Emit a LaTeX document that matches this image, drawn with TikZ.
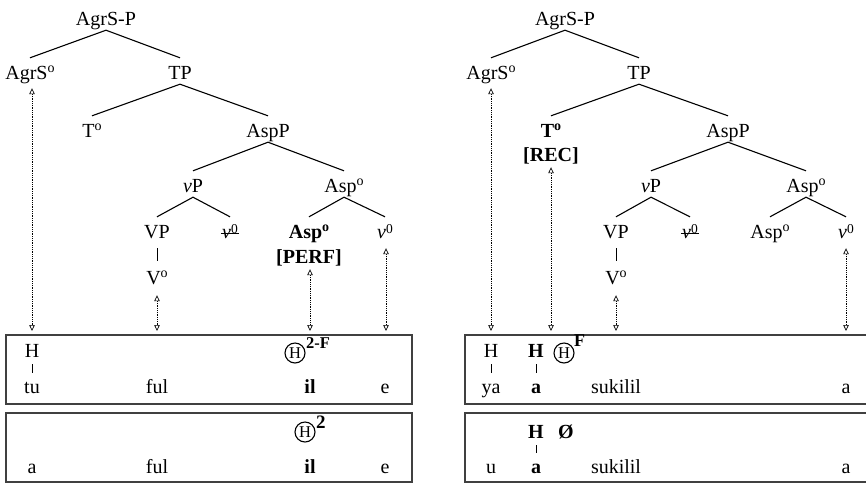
\documentclass[tikz,border=0pt]{standalone}
\usepackage{fontspec}
\setmainfont{Liberation Serif}
\usetikzlibrary{arrows.meta}
\newcommand\supo{\raisebox{6.5pt}{\fontsize{14}{14}\selectfont o}}
\newcommand\supz{\raisebox{5pt}{\fontsize{13.5}{14}\selectfont 0}}
\begin{document}
\begin{tikzpicture}[x=1pt,y=-1pt,
  tn/.style={anchor=base, inner sep=0pt, text height=13pt, text depth=5pt, font=\fontsize{20}{23}\selectfont},
  edge/.style={line width=1.1pt},
  tip/.tip={Triangle[open,length=6pt,width=5.5pt,line width=0.7pt]},
  arr/.style={line width=0.8pt, dash pattern=on 0.9pt off 0.9pt, tip-tip},
  bx/.style={draw=black!75, line width=1.5pt},
  bt/.style={anchor=base, inner sep=0pt, text height=12pt, text depth=3pt, font=\fontsize{20}{23}\selectfont},
  tick/.style={line width=0.8pt},
  circ/.style={circle, draw, line width=1.1pt, inner sep=0pt, minimum size=20pt, font=\fontsize{16.5}{18}\selectfont},
  supx/.style={anchor=base west, inner sep=0pt, font=\fontsize{16.5}{18}\selectfont\bfseries}
]
\useasboundingbox (0,0) rectangle (866,483);

% ---------------- left tree ----------------
\node[tn] (pL) at (106,25) {AgrS-P};
\node[tn] (agrsL) at (30,79) {AgrS\supo};
\node[tn] (tpL) at (180,79) {TP};
\node[tn] (t0L) at (92,137) {T\supo};
\node[tn] (asppL) at (268,137) {AspP};
\node[tn] (vpL) at (193,192) {\textit{v}P};
\node[tn] (asp0L) at (344,192) {Asp\supo};
\node[tn] (VPL) at (157,238) {VP};
\node[tn] (vsL) at (230,238) {\textit{v}\supz};
\node[tn] (aspbL) at (309,238) {\textbf{Asp\supo}};
\node[tn] (v0L) at (385,238) {\textit{v}\supz};
\node[tn] (perfL) at (309,263) {\textbf{[PERF]}};
\node[tn] (V0L) at (157,284) {V\supo};
\draw[line width=1pt] ([yshift=5pt,xshift=-1pt]vsL.base west) -- ([yshift=5pt,xshift=1pt]vsL.base east);

\draw[edge] (pL.south) -- ([yshift=8pt]agrsL.north);
\draw[edge] (pL.south) -- ([yshift=8pt]tpL.north);
\draw[edge] (tpL.south) -- ([yshift=8pt]t0L.north);
\draw[edge] (tpL.south) -- ([yshift=8pt]asppL.north);
\draw[edge] (asppL.south) -- ([yshift=8pt]vpL.north);
\draw[edge] (asppL.south) -- ([yshift=8pt]asp0L.north);
\draw[edge] (vpL.south) -- ([yshift=8pt]VPL.north);
\draw[edge] (vpL.south) -- ([yshift=8pt]vsL.north);
\draw[edge] (asp0L.south) -- ([yshift=8pt]aspbL.north);
\draw[edge] (asp0L.south) -- ([yshift=8pt]v0L.north);
\draw[line width=0.9pt] ([yshift=-5pt]VPL.south) -- ([yshift=10pt]V0L.north);

% left boxes
\draw[bx] (6,335) rectangle (412,404);
\draw[bx] (6,413) rectangle (412,482);

\coordinate (aL1) at (32,331);
\coordinate (aL2) at (157,331);
\coordinate (aL3) at (310,331);
\coordinate (aL4) at (386,331);
\draw[arr, shorten <=4pt] (agrsL.south -| aL1) -- (aL1);
\draw[arr, shorten <=6pt] (V0L.south -| aL2) -- (aL2);
\draw[arr, shorten <=1pt] (perfL.south -| aL3) -- (aL3);
\draw[arr, shorten <=5pt] (v0L.south -| aL4) -- (aL4);

% left box 1
\node[bt] (hL1) at (32,357) {H};
\node[bt] (tuL) at (32,393) {tu};
\draw[tick] ([yshift=-4pt]hL1.south) -- ([yshift=8pt]tuL.north);
\node[bt] (fulL1) at (157,393) {ful};
\node[bt] (ilL1) at (310,393) {\textbf{il}};
\node[bt] (eL1) at (385,393) {e};
\node[circ] (chL1) at (295,353) {H};
\node[supx] (supL1) at (306,348) {2-F};

% left box 2
\node[bt] (aL) at (32,473) {a};
\node[bt] (fulL2) at (157,473) {ful};
\node[bt] (ilL2) at (310,473) {\textbf{il}};
\node[bt] (eL2) at (385,473) {e};
\node[circ] (chL2) at (305,432) {H};
\node[supx, font=\fontsize{19}{20}\selectfont\bfseries] (supL2) at (316,428) {2};

% ---------------- right tree ----------------
\node[tn] (pR) at (565,25) {AgrS-P};
\node[tn] (agrsR) at (491,79) {AgrS\supo};
\node[tn] (tpR) at (639,79) {TP};
\node[tn] (t0R) at (551,137) {\textbf{T\supo}};
\node[tn] (recR) at (551,161) {\textbf{[REC]}};
\node[tn] (asppR) at (728,137) {AspP};
\node[tn] (vpR) at (651,192) {\textit{v}P};
\node[tn] (asp0R) at (806,192) {Asp\supo};
\node[tn] (VPR) at (616,238) {VP};
\node[tn] (vsR) at (690,238) {\textit{v}\supz};
\node[tn] (aspR) at (770,238) {Asp\supo};
\node[tn] (v0R) at (846,238) {\textit{v}\supz};
\node[tn] (V0R) at (616,284) {V\supo};
\draw[line width=1pt] ([yshift=5pt,xshift=-1pt]vsR.base west) -- ([yshift=5pt,xshift=1pt]vsR.base east);

\draw[edge] (pR.south) -- ([yshift=8pt]agrsR.north);
\draw[edge] (pR.south) -- ([yshift=8pt]tpR.north);
\draw[edge] (tpR.south) -- ([yshift=8pt]t0R.north);
\draw[edge] (tpR.south) -- ([yshift=8pt]asppR.north);
\draw[edge] (asppR.south) -- ([yshift=8pt]vpR.north);
\draw[edge] (asppR.south) -- ([yshift=8pt]asp0R.north);
\draw[edge] (vpR.south) -- ([yshift=8pt]VPR.north);
\draw[edge] (vpR.south) -- ([yshift=8pt]vsR.north);
\draw[edge] (asp0R.south) -- ([yshift=8pt]aspR.north);
\draw[edge] (asp0R.south) -- ([yshift=8pt]v0R.north);
\draw[line width=0.9pt] ([yshift=-5pt]VPR.south) -- ([yshift=10pt]V0R.north);

% right boxes
\draw[bx] (465,335) rectangle (874,404);
\draw[bx] (465,413) rectangle (874,482);

\coordinate (aR1) at (491,331);
\coordinate (aR2) at (551,331);
\coordinate (aR3) at (616,331);
\coordinate (aR4) at (846,331);
\draw[arr, shorten <=4pt] (agrsR.south -| aR1) -- (aR1);
\draw[arr, shorten <=1pt] (recR.south -| aR2) -- (aR2);
\draw[arr, shorten <=6pt] (V0R.south -| aR3) -- (aR3);
\draw[arr, shorten <=5pt] (v0R.south -| aR4) -- (aR4);

% right box 1
\node[bt] (hR1) at (491,357) {H};
\node[bt] (yaR) at (491,393) {ya};
\draw[tick] ([yshift=-4pt]hR1.south) -- ([yshift=8pt]yaR.north);
\node[bt] (hbR1) at (536,357) {\textbf{H}};
\node[bt] (abR1) at (536,393) {\textbf{a}};
\draw[tick] ([yshift=-4pt]hbR1.south) -- ([yshift=8pt]abR1.north);
\node[circ] (chR1) at (564,353) {H};
\node[supx, font=\fontsize{18}{19}\selectfont\bfseries] (supR1) at (574,346) {F};
\node[bt] (sukR1) at (616,393) {sukilil};
\node[bt] (aR1t) at (846,393) {a};

% right box 2
\node[bt] (hbR2) at (536,438) {\textbf{H}};
\node[bt] (abR2) at (536,473) {\textbf{a}};
\draw[tick] ([yshift=-4pt]hbR2.south) -- ([yshift=8pt]abR2.north);
\node[bt] (zeroR2) at (566,438) {\textbf{Ø}};
\node[bt] (uR2) at (491,473) {u};
\node[bt] (sukR2) at (616,473) {sukilil};
\node[bt] (aR2t) at (846,473) {a};
\end{tikzpicture}
\end{document}
